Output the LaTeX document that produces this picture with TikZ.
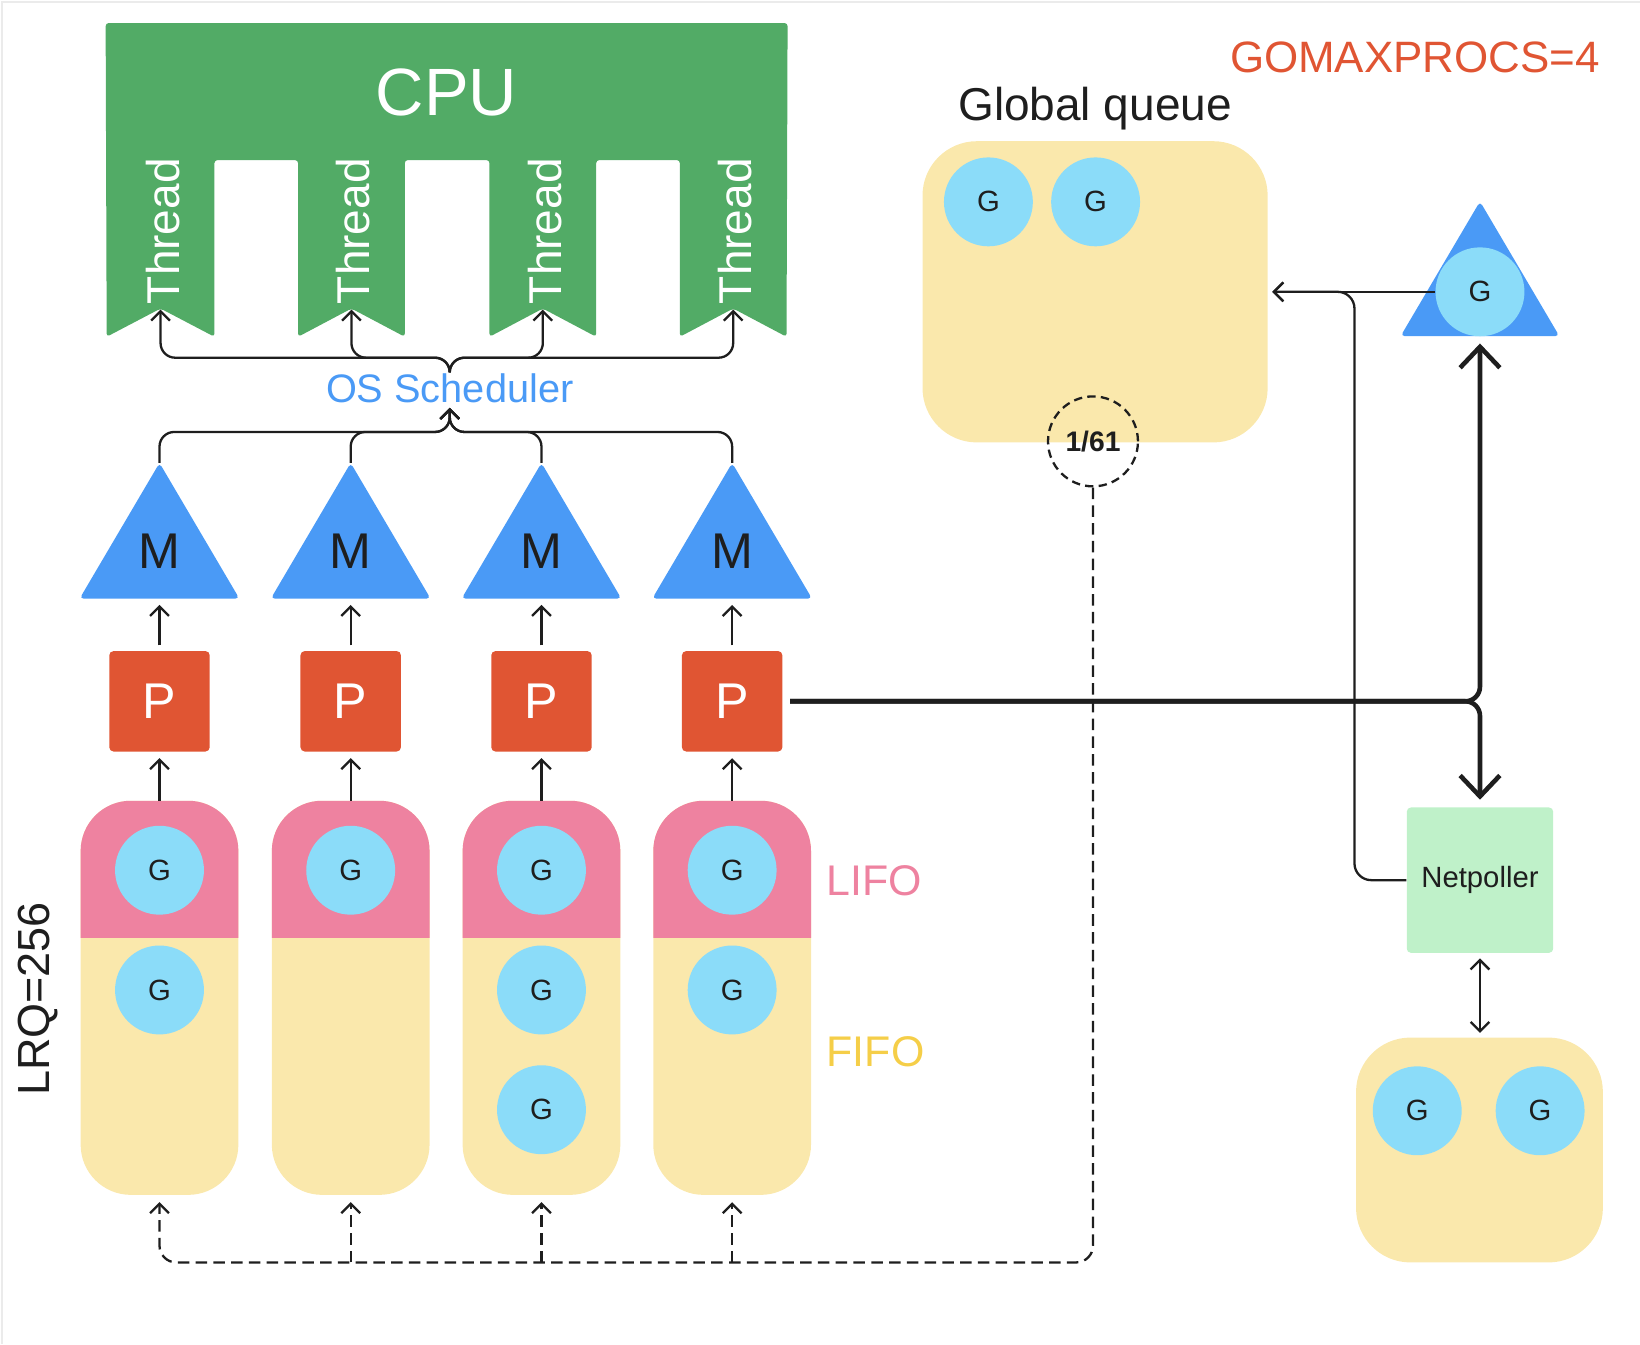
\documentclass[tikz,border=0pt]{standalone}
\usepackage{fontspec}
\setmainfont{Liberation Sans}
\usetikzlibrary{arrows.meta}
\definecolor{cpugreen}{HTML}{52AB66}
\definecolor{mblue}{HTML}{4A9AF6}
\definecolor{porange}{HTML}{E05533}
\definecolor{lifopink}{HTML}{EE82A0}
\definecolor{qyellow}{HTML}{FAE8AC}
\definecolor{gblue}{HTML}{8BDCF9}
\definecolor{npgreen}{HTML}{BFF1C9}
\definecolor{fifoyellow}{HTML}{F5CE48}
\definecolor{ink}{HTML}{1E1E1E}
\newcommand\myfs[1]{\fontsize{#1}{#1}\selectfont}
\begin{document}
\begin{tikzpicture}[x=0.5pt,y=-0.5pt,
  gc/.style={circle,fill=gblue,inner sep=0pt,minimum size=42.5pt,text=ink,font=\myfs{14}},
  trinode/.style={inner sep=0pt,minimum width=76pt,minimum height=64.5pt},
  pbox/.style={rectangle,fill=porange,rounded corners=2pt,minimum size=48pt,inner sep=0pt,text=white,font=\myfs{24}},
  qcol/.style={inner sep=0pt,minimum width=75pt,minimum height=188pt},
  arr/.style={line width=1.1pt,draw=ink,-{Straight Barb[length=4.5pt,width=9pt]}},
  dsh/.style={arr,dash pattern=on 5.5pt off 3pt},
  bigarr/.style={line width=2.2pt,draw=ink,-{Straight Barb[length=10pt,width=19pt]}},
  qbox/.style={fill=qyellow,rounded corners=26pt,inner sep=0pt}
]
\useasboundingbox (0,0) rectangle (1568,1285);
\draw[black!8,line width=1pt] (1.5,1285) -- (1.5,1.5) -- (1568,1.5);

% CPU with threads
\fill[cpugreen,rounded corners=1.5pt] (101,22) -- (753,22) -- (752,322) -- (701,295) -- (650,322) -- (650,153) -- (570,153) -- (570,322) -- (519,295) -- (468,322) -- (468,153) -- (387,153) -- (387,322) -- (336,295) -- (285,322) -- (285,153) -- (205,153) -- (205,322) -- (153.5,295) -- (102,322) -- cycle;
\node[text=white,font=\myfs{32}] (cpu) at (427,88) {CPU};
\foreach \k/\x in {1/153.5,2/336,3/519,4/701}{
  \node[rotate=90,text=white,font=\myfs{22}] (t\k) at (\x+2,221) {Thread};
  \coordinate (a\k) at (\x,296);
}

% OS scheduler
\node[text=mblue,font=\myfs{19},inner sep=0pt,text height=14pt,text depth=2.5pt] (os) at (430,373) {OS Scheduler};
\foreach \k in {1,...,4}{
  \draw[arr,rounded corners=7pt] (os.north) -- (430,342) -- (a\k |- 0,342) -- (a\k);
}

% columns: M, P, queues
\foreach \k/\x in {1/152.5,2/335.3,3/517.7,4/700}{
  \node[trinode] (M\k) at (\x,507.5) {};
  \fill[mblue,rounded corners=2pt] (M\k.north) -- (M\k.south east) -- (M\k.south west) -- cycle;
  \node[font=\myfs{24},text=ink] (ml\k) at (\x,527) {M};
  \draw[arr,rounded corners=7pt] (M\k.north) -- (M\k.north |- 0,413) -- (430,413) -- (os.south);
  \node[pbox] (P\k) at (\x,670.5) {P};
  \draw[arr,shorten <=2.5pt,shorten >=3pt] (P\k.north) -- (M\k.south);
  \node[qcol] (Q\k) at (\x,954) {};
  \fill[qyellow,rounded corners=24pt] (Q\k.north west) rectangle (Q\k.south east);
  \begin{scope}
    \clip (Q\k.north west) rectangle (Q\k.east |- 0,896);
    \fill[lifopink,rounded corners=24pt] (Q\k.north west) rectangle (Q\k.south east);
  \end{scope}
  \draw[arr,shorten >=3pt] (Q\k.north) -- (P\k.south);
  \node[gc] (gl\k) at (\x,832) {G};
}
\node[gc] (g12) at (152.5,946.5) {G};
\node[gc] (g32) at (517.7,946.5) {G};
\node[gc] (g33) at (517.7,1061) {G};
\node[gc] (g42) at (700,946.5) {G};

\node[anchor=west,inner sep=0pt,text=lifopink,font=\myfs{20.5}] (lifo) at (790,842) {LIFO};
\node[anchor=west,inner sep=0pt,text=fifoyellow,font=\myfs{20.5}] (fifo) at (790,1006) {FIFO};
\node[rotate=90,text=ink,font=\myfs{21.5}] (lrq) at (36,955) {LRQ=256};

% Global queue
\node[qbox,minimum width=165pt,minimum height=144pt] (gq) at (1047,279) {};
\node[text=ink,font=\myfs{22}] (gqlabel) at (1047,104) {Global queue};
\node[gc] (gq1) at (945,193) {G};
\node[gc] (gq2) at (1047.5,193) {G};
\node[circle,draw=ink,line width=1.1pt,dash pattern=on 4pt off 2.5pt,minimum size=43pt,inner sep=0pt,text=ink,font=\bfseries\myfs{13.5}] (c161) at (1045,422) {1/61};
\node[anchor=east,inner sep=0pt,text=porange,font=\myfs{21}] (gmp) at (1530,55) {GOMAXPROCS=4};

% dashed steal paths
\coordinate (dc) at (1045,1207);
\draw[dsh,rounded corners=8pt,shorten >=3.5pt] (c161.south) -- (dc) -- (Q1.south |- dc) -- (Q1.south);
\foreach \k in {2,3,4}{
  \draw[dsh,shorten >=3.5pt] (Q\k.south |- dc) -- (Q\k.south);
}

% right side
\node[inner sep=0pt,minimum width=75.5pt,minimum height=64pt] (tr) at (1415,257) {};
\fill[mblue,rounded corners=2pt] (tr.north) -- (tr.south east) -- (tr.south west) -- cycle;
\node[gc] (gt) at (1415,279) {G};
\draw[arr,shorten >=2pt] (gt.west) -- (gq.east);

\node[fill=npgreen,rounded corners=2pt,minimum width=70pt,minimum height=69.5pt,inner sep=0pt,text=ink,font=\myfs{14}] (np) at (1415,841.5) {\raisebox{-2pt}{Netpoller}};
\draw[arr,rounded corners=8pt,shorten >=2pt] (np.west) -- (1295,841.5) -- (1295,279) -- (gq.east);

\node[qbox,minimum width=118pt,minimum height=107.5pt] (nq) at (1414.5,1099.5) {};
\node[gc] (gn1) at (1355,1062) {G};
\node[gc] (gn2) at (1472.5,1062) {G};
\draw[arr,{Straight Barb[length=4.5pt,width=9pt]}-{Straight Barb[length=4.5pt,width=9pt]},shorten <=2.5pt,shorten >=2pt] (np.south) -- (np.south |- nq.north);

\coordinate (jn) at (1415,670.5);
\draw[bigarr,rounded corners=7pt,shorten <=3.5pt,shorten >=3.5pt] (P4.east) -- (jn) -- (tr.south);
\draw[bigarr,rounded corners=7pt,shorten <=3.5pt,shorten >=3.5pt] (P4.east) -- (jn) -- (np.north);
\end{tikzpicture}
\end{document}
